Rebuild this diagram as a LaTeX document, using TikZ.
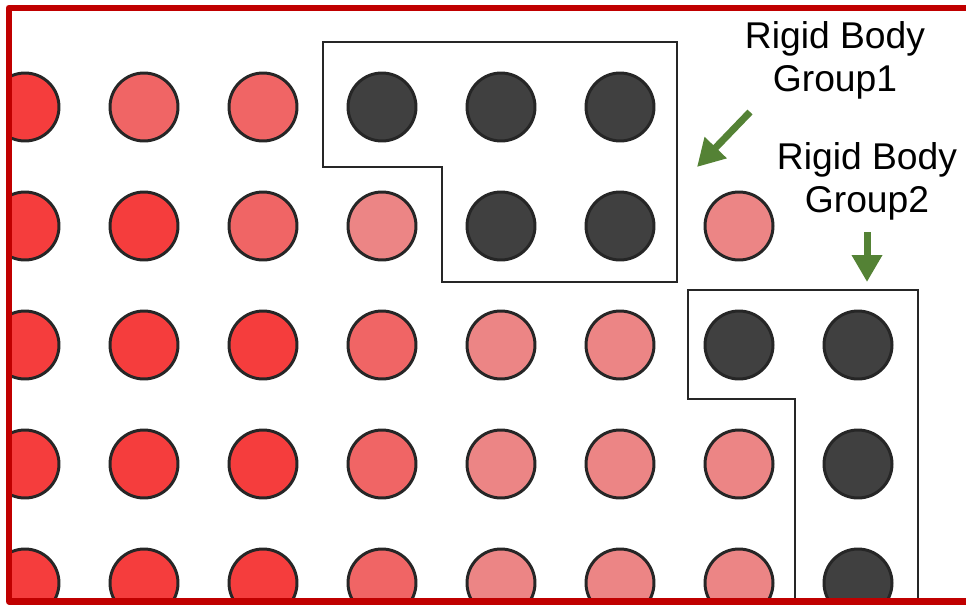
\documentclass[tikz,border=0pt]{standalone}
\usepackage{fontspec}
\setsansfont{Liberation Sans}
\definecolor{hot}{HTML}{F53D3D}
\definecolor{warm}{HTML}{F06565}
\definecolor{mild}{HTML}{EC8585}
\definecolor{solid}{HTML}{404040}
\definecolor{rim}{HTML}{262626}
\definecolor{framered}{HTML}{C00000}
\definecolor{leaf}{HTML}{548235}
\usetikzlibrary{arrows.meta}
\tikzset{
  ball/.style={
    circle, draw=rim, fill=#1, line width=1.7pt,
    minimum size=1.36cm, inner sep=0pt
  },
  ball/.default=hot,
  hull/.style={draw=rim, line width=1.4pt},
  frame/.style={draw=framered, line width=0.14cm, line join=round},
  pointer/.style={-{Triangle[length=0.54cm,width=0.58cm]}, line width=0.14cm, color=leaf},
  lbl/.style={font=\sffamily\fontsize{21.2}{24.5}\selectfont, text=black, align=center},
}

\begin{document}
\begin{tikzpicture}[x=0.02cm, y=-0.02cm]
    \useasboundingbox (0,0) rectangle (966,605);

    % particle grid, rows top to bottom
    \begin{scope}
      \clip (8,0) rectangle (966,601);
      \foreach \r/\fills in {0/{hot,warm,warm,solid,solid,solid},
                             1/{hot,hot,warm,mild,solid,solid,mild},
                             2/{hot,hot,hot,warm,mild,mild,solid,solid},
                             3/{hot,hot,hot,warm,mild,mild,mild,solid},
                             4/{hot,hot,hot,warm,mild,mild,mild,solid}}
        \foreach \f [count=\c from 0] in \fills
          \node[ball=\f] (p-\r-\c) at ({25+119*\c},{107+119*\r}) {};
    \end{scope}

    % rigid body outlines
    \draw[hull] (323,42) -- (677,42) -- (677,282) -- (442,282)
      -- (442,167) -- (323,167) -- cycle;
    \draw[hull] (688,290) -- (918,290) -- (918,601) -- (795,601)
      -- (795,399) -- (688,399) -- cycle;

    \draw[frame] (966,8) -- (9,8) -- (9,601) -- (966,601);

    \node[lbl] (group1) at (835,60) {Rigid Body\\Group1};
    \node[lbl] (group2) at (867,181) {Rigid Body\\Group2};

    \coordinate (tail1) at (750,112);
    \coordinate (tip1) at (697,167);
    \coordinate (tail2) at (867,232);
    \coordinate (tip2) at (867,282);
    \draw[pointer] (tail1) -- (tip1);
    \draw[pointer] (tail2) -- (tip2);
\end{tikzpicture}
\end{document}
